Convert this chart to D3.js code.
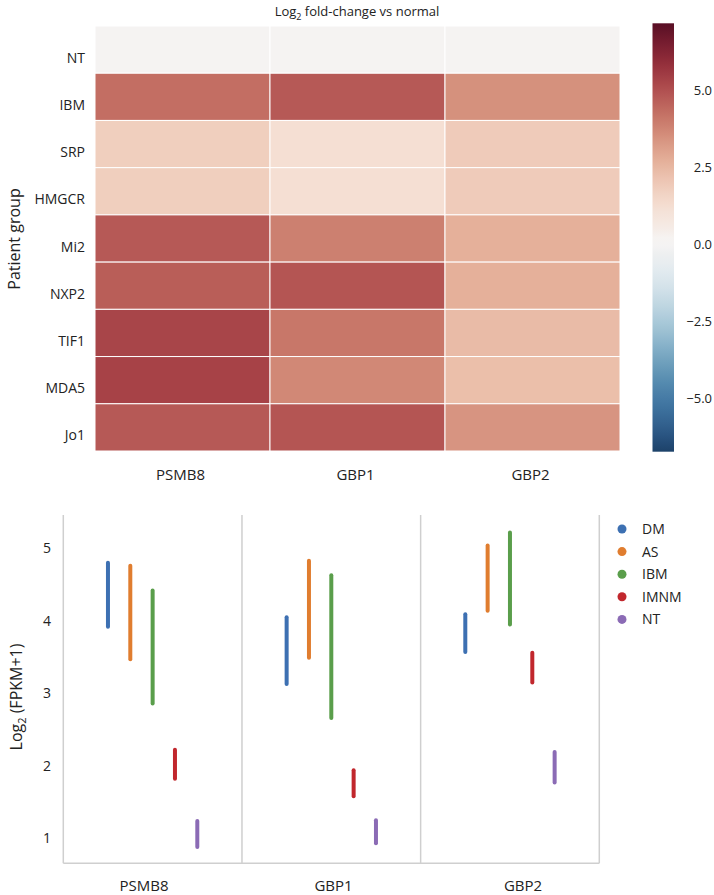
<!DOCTYPE html>
<html>
<head>
<meta charset="utf-8">
<script src="https://cdn.jsdelivr.net/npm/d3@7"></script>
<style>
  html, body { margin: 0; padding: 0; background: #fff; }
  svg { display: block; font-family: "Open Sans", "Noto Sans", sans-serif; }
</style>
</head>
<body>
<svg id="chart" width="714" height="895"></svg>
<script>
// ---------- DATA ----------
const groups = ["NT", "IBM", "SRP", "HMGCR", "Mi2", "NXP2", "TIF1", "MDA5", "Jo1"];
const genes = ["PSMB8", "GBP1", "GBP2"];
// Log2 fold-change vs normal, per patient group (rows) for each gene
const fcPSMB8 = [0, 4.3, 1.8, 1.8, 4.8, 4.7, 5.3, 5.35, 4.8];
const fcGBP1  = [0, 4.8, 1.2, 1.2, 3.9, 4.9, 4.1, 3.7, 4.9];
const fcGBP2  = [0, 3.5, 1.9, 1.9, 2.7, 2.7, 2.4, 2.3, 3.4];
const colorbarTicks = [5.0, 2.5, 0.0, -2.5, -5.0];
const colorbarRange = [-6.75, 7.2];
const colorVRange = 7.2;

// Lower panel: range of Log2(FPKM+1) per disease group for each gene
const diseases = ["DM", "AS", "IBM", "IMNM", "NT"];
const diseaseColors = ["#3d70b2", "#e07d2f", "#5a9e4b", "#c1272d", "#8b6bb5"];
const lowPSMB8  = [3.92, 3.47, 2.86, 1.82, 0.88];
const highPSMB8 = [4.80, 4.76, 4.42, 2.22, 1.24];
const lowGBP1   = [3.13, 3.49, 2.66, 1.58, 0.93];
const highGBP1  = [4.05, 4.83, 4.63, 1.94, 1.25];
const lowGBP2   = [3.57, 4.14, 3.95, 3.15, 1.77];
const highGBP2  = [4.09, 5.04, 5.22, 3.56, 2.19];
const yTicks = [1, 2, 3, 4, 5];

// ---------- SETUP ----------
const svg = d3.select("#chart");
const fcByGene = [fcPSMB8, fcGBP1, fcGBP2];
const cells = [];
genes.forEach((g, gi) => groups.forEach((r, ri) => cells.push({gene: g, group: r, v: fcByGene[gi][ri]})));

// ---------- HEATMAP ----------
const hx = d3.scaleBand().domain(genes).range([95, 620]);
const hy = d3.scaleBand().domain(groups).range([26, 451]);
const color = v => {
  const c = d3.hsl(d3.interpolateRdBu(0.5 - v / (2 * colorVRange)));
  c.s *= 0.72;
  if (Math.abs(v) < 0.3) c.l = Math.min(0.955, c.l + 0.02);
  return c.formatHex();
};

svg.append("g").selectAll("rect").data(cells).join("rect")
  .attr("x", d => hx(d.gene)).attr("y", d => hy(d.group))
  .attr("width", hx.bandwidth()).attr("height", hy.bandwidth())
  .attr("fill", d => color(d.v))
  .attr("stroke", "#fff").attr("stroke-width", 1);

// title
const title = svg.append("text").attr("x", 357).attr("y", 16)
  .attr("text-anchor", "middle").attr("font-size", 13).attr("fill", "#222");
title.append("tspan").text("Log");
title.append("tspan").attr("font-size", 9).attr("dy", 4).text("2");
title.append("tspan").attr("dy", -4).text(" fold-change vs normal");

// row labels
svg.append("g").selectAll("text").data(groups).join("text")
  .attr("x", 85).attr("y", d => hy(d) + hy.bandwidth() / 2 + 13)
  .attr("text-anchor", "end").attr("font-size", 14).attr("fill", "#222")
  .text(d => d);

// column labels
svg.append("g").selectAll("text").data(genes).join("text")
  .attr("x", d => hx(d) + hx.bandwidth() / 2 - 2).attr("y", 480)
  .attr("text-anchor", "middle").attr("font-size", 15).attr("fill", "#222")
  .text(d => d);

// y title
svg.append("text").attr("transform", "translate(14,239) rotate(-90)")
  .attr("text-anchor", "middle").attr("dominant-baseline", "central")
  .attr("font-size", 16).attr("fill", "#222").text("Patient group");

// ---------- COLORBAR ----------
const cbY = d3.scaleLinear().domain(colorbarRange).range([451.7, 23.3]);
const defs = svg.append("defs");
const grad = defs.append("linearGradient").attr("id", "cbgrad")
  .attr("x1", 0).attr("y1", 1).attr("x2", 0).attr("y2", 0);
d3.range(0, 1.0001, 0.02).forEach(t => {
  const v = colorbarRange[0] + t * (colorbarRange[1] - colorbarRange[0]);
  grad.append("stop").attr("offset", t).attr("stop-color", color(v));
});
svg.append("rect").attr("x", 652.5).attr("y", cbY(colorbarRange[1]))
  .attr("width", 21.5).attr("height", cbY(colorbarRange[0]) - cbY(colorbarRange[1]))
  .attr("fill", "url(#cbgrad)");
svg.append("g").selectAll("text").data(colorbarTicks).join("text")
  .attr("x", 712).attr("y", d => cbY(d)).attr("dy", "0.35em")
  .attr("text-anchor", "end").attr("font-size", 13).attr("fill", "#222")
  .text(d => d3.format(".1f")(d).replace("-", "\u2212"));

// ---------- LOWER CHART ----------
const px = d3.scaleBand().domain(genes).range([63.3, 599.3]);
const dx = d3.scalePoint().domain(diseases).range([-0.25, 0.25]);
const py = d3.scaleLinear().domain([0.655, 5.46]).range([863.3, 515]);
const lowBy = [lowPSMB8, lowGBP1, lowGBP2];
const highBy = [highPSMB8, highGBP1, highGBP2];

// frame: left, bottom, right and panel separators
const frame = svg.append("g").attr("stroke", "#cfcfcf").attr("stroke-width", 1.5).attr("fill", "none");
const edges = [px.range()[0]].concat(genes.map(g => px(g) + px.bandwidth()));
frame.selectAll("line.v").data(edges).join("line").attr("class", "v")
  .attr("x1", d => d).attr("x2", d => d).attr("y1", py.range()[1]).attr("y2", py.range()[0]);
frame.append("line").attr("x1", px.range()[0]).attr("x2", px.range()[1])
  .attr("y1", py.range()[0]).attr("y2", py.range()[0]);

// y axis ticks labels
svg.append("g").selectAll("text").data(yTicks).join("text")
  .attr("x", 51).attr("y", d => py(d)).attr("dy", "0.35em")
  .attr("text-anchor", "end").attr("font-size", 14).attr("fill", "#222")
  .text(d => d);

// y title
const yt = svg.append("text").attr("transform", "translate(16,697) rotate(-90)")
  .attr("text-anchor", "middle").attr("dominant-baseline", "central")
  .attr("font-size", 16).attr("fill", "#222");
yt.append("tspan").text("Log");
yt.append("tspan").attr("font-size", 11).attr("dy", 5).text("2");
yt.append("tspan").attr("dy", -5).text(" (FPKM+1)");

// x labels
const xl = d3.scalePoint().domain(genes).range([144, 523]);
svg.append("g").selectAll("text").data(genes).join("text")
  .attr("x", d => xl(d)).attr("y", 891)
  .attr("text-anchor", "middle").attr("font-size", 15).attr("fill", "#222")
  .text(d => d);

// range lines
const segs = [];
genes.forEach((g, gi) => diseases.forEach((d, di) => segs.push({
  gene: g, dis: d, color: diseaseColors[di], lo: lowBy[gi][di], hi: highBy[gi][di]
})));
svg.append("g").selectAll("line").data(segs).join("line")
  .attr("x1", d => px(d.gene) + px.bandwidth() * (0.5 + dx(d.dis)))
  .attr("x2", d => px(d.gene) + px.bandwidth() * (0.5 + dx(d.dis)))
  .attr("y1", d => py(d.lo)).attr("y2", d => py(d.hi))
  .attr("stroke", d => d.color).attr("stroke-width", 4).attr("stroke-linecap", "round");

// legend
const lg = svg.append("g").attr("transform", "translate(622,529)");
const li = lg.selectAll("g").data(diseases).join("g")
  .attr("transform", (d, i) => `translate(0,${i * 22.6})`);
li.append("circle").attr("r", 4.5).attr("fill", (d, i) => diseaseColors[i]);
li.append("text").attr("x", 20).attr("dy", "0.35em").attr("font-size", 14).attr("fill", "#222").text(d => d);
</script>
</body>
</html>
